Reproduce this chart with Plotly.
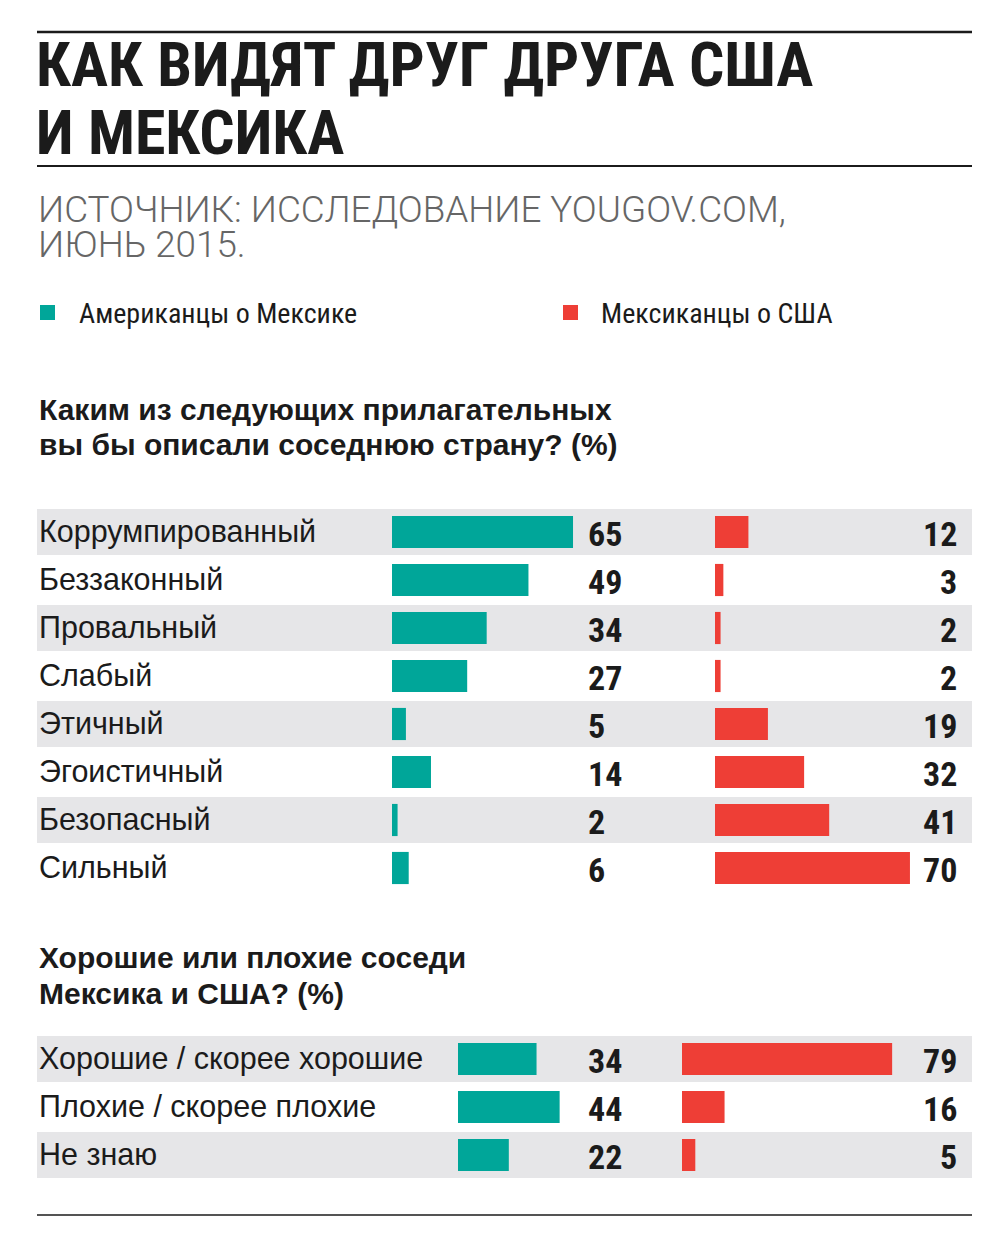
import plotly.graph_objects as go

# ---------------- data ----------------
adjectives = ["Коррумпированный", "Беззаконный", "Провальный", "Слабый",
              "Этичный", "Эгоистичный", "Безопасный", "Сильный"]
us_on_mexico_adj = [65, 49, 34, 27, 5, 14, 2, 6]
mexico_on_us_adj = [12, 3, 2, 2, 19, 32, 41, 70]

neighbours = ["Хорошие / скорее хорошие", "Плохие / скорее плохие", "Не знаю"]
us_on_mexico_nb = [34, 44, 22]
mexico_on_us_nb = [79, 16, 5]

title_lines = ["КАК ВИДЯТ ДРУГ ДРУГА США", "И МЕКСИКА"]
source_lines = ["ИСТОЧНИК: ИССЛЕДОВАНИЕ YOUGOV.COM,", "ИЮНЬ 2015."]
legend_names = ["Американцы о Мексике", "Мексиканцы о США"]
question1 = ["Каким из следующих прилагательных", "вы бы описали соседнюю страну? (%)"]
question2 = ["Хорошие или плохие соседи", "Мексика и США? (%)"]

# ---------------- style ----------------
W, H = 1000, 1240
TEAL = "#00a699"
RED = "#ee3e36"
STRIPE = "#e6e6e8"
INK = "#1b1b1b"
COND = "Roboto Condensed, Open Sans Condensed, sans-serif"
SANS = "Liberation Sans, Arial, Helvetica, sans-serif"


def px(x):
    return x / W


def py(y):
    return 1 - y / H


fig = go.Figure()

# panel 1 bars
fig.add_trace(go.Bar(y=adjectives, x=us_on_mexico_adj, orientation="h",
                     marker=dict(color=TEAL, line=dict(width=0)),
                     xaxis="x", yaxis="y", name=legend_names[0], hoverinfo="x+y"))
fig.add_trace(go.Bar(y=adjectives, x=mexico_on_us_adj, orientation="h",
                     marker=dict(color=RED, line=dict(width=0)),
                     xaxis="x2", yaxis="y", name=legend_names[1], hoverinfo="x+y"))
# panel 2 bars
fig.add_trace(go.Bar(y=neighbours, x=us_on_mexico_nb, orientation="h",
                     marker=dict(color=TEAL, line=dict(width=0)),
                     xaxis="x3", yaxis="y3", name=legend_names[0], hoverinfo="x+y"))
fig.add_trace(go.Bar(y=neighbours, x=mexico_on_us_nb, orientation="h",
                     marker=dict(color=RED, line=dict(width=0)),
                     xaxis="x4", yaxis="y3", name=legend_names[1], hoverinfo="x+y"))

hidden = dict(showgrid=False, zeroline=False, showticklabels=False,
              showline=False, ticks="", fixedrange=True)

p1_top, p1_bot = 508, 892
p2_top, p2_bot = 1035, 1179

fig.update_layout(
    width=W, height=H,
    margin=dict(l=0, r=0, t=0, b=0),
    paper_bgcolor="white", plot_bgcolor="rgba(0,0,0,0)",
    showlegend=False, bargap=0.33,
    xaxis=dict(domain=[px(392), px(392 + 278.5)], range=[0, 100], anchor="y", **hidden),
    xaxis2=dict(domain=[px(715), px(715 + 278.5)], range=[0, 100], anchor="y", **hidden),
    yaxis=dict(domain=[py(p1_bot), py(p1_top)], type="category",
               categoryorder="array", categoryarray=adjectives,
               range=[len(adjectives) - 0.5, -0.5], anchor="x", **hidden),
    xaxis3=dict(domain=[px(458), px(458 + 207.9)], range=[0, 90], anchor="y3", **hidden),
    xaxis4=dict(domain=[px(682), px(682 + 292.6)], range=[0, 110], anchor="y3", **hidden),
    yaxis3=dict(domain=[py(p2_bot), py(p2_top)], type="category",
                categoryorder="array", categoryarray=neighbours,
                range=[len(neighbours) - 0.5, -0.5], anchor="x3", **hidden),
)

shapes = []
# rules
shapes.append(dict(type="line", xref="paper", yref="paper", x0=px(37), x1=px(972),
                   y0=py(32), y1=py(32), line=dict(color=INK, width=2.5)))
shapes.append(dict(type="line", xref="paper", yref="paper", x0=px(37), x1=px(972),
                   y0=py(166), y1=py(166), line=dict(color=INK, width=2)))
shapes.append(dict(type="line", xref="paper", yref="paper", x0=px(37), x1=px(972),
                   y0=py(1215), y1=py(1215), line=dict(color=INK, width=1.5)))
# stripes
for i in range(0, len(adjectives), 2):
    shapes.append(dict(type="rect", xref="paper", yref="y", x0=px(37), x1=px(972),
                       y0=i - 0.48, y1=i + 0.48, fillcolor=STRIPE, line=dict(width=0),
                       layer="below"))
for i in range(0, len(neighbours), 2):
    shapes.append(dict(type="rect", xref="paper", yref="y3", x0=px(37), x1=px(972),
                       y0=i - 0.48, y1=i + 0.48, fillcolor=STRIPE, line=dict(width=0),
                       layer="below"))
# legend squares
shapes.append(dict(type="rect", xref="paper", yref="paper", x0=px(40), x1=px(55),
                   y0=py(320), y1=py(305), fillcolor=TEAL, line=dict(width=0)))
shapes.append(dict(type="rect", xref="paper", yref="paper", x0=px(563), x1=px(578),
                   y0=py(320), y1=py(305), fillcolor=RED, line=dict(width=0)))
fig.update_layout(shapes=shapes)

ann = []


def text(x, y, s, size, family, color=INK, weight="normal", anchor="left"):
    ann.append(dict(xref="paper", yref="paper", x=px(x), y=py(y), text=s,
                    showarrow=False, xanchor=anchor, yanchor="middle",
                    font=dict(size=size, family=family, color=color, weight=weight)))


text(34, 65, title_lines[0], 62, COND, weight="bold")
text(34, 132, title_lines[1], 62, COND, weight="bold")
text(36, 209, source_lines[0], 36.8, "Roboto, sans-serif", color="#666666", weight=300)
text(36, 244, source_lines[1], 36.8, "Roboto, sans-serif", color="#666666", weight=300)
text(77, 313, legend_names[0], 28, COND)
text(599, 313, legend_names[1], 28, COND)
text(37, 409, question1[0], 30, SANS, weight="bold")
text(37, 444, question1[1], 30, SANS, weight="bold")
text(37, 957, question2[0], 30, SANS, weight="bold")
text(37, 993, question2[1], 30, SANS, weight="bold")

# row labels and values
VAL = dict(size=34, family=COND, color=INK, weight="bold")
LAB = dict(size=30.5, family=SANS, color=INK)
for yref, cats, left, right in [("y", adjectives, us_on_mexico_adj, mexico_on_us_adj),
                                ("y3", neighbours, us_on_mexico_nb, mexico_on_us_nb)]:
    for cat, a, b in zip(cats, left, right):
        ann.append(dict(xref="paper", yref=yref, x=px(37), y=cat, text=cat, showarrow=False,
                        xanchor="left", yanchor="middle", yshift=1, font=LAB))
        ann.append(dict(xref="paper", yref=yref, x=px(586), y=cat, text=str(a), showarrow=False,
                        xanchor="left", yanchor="middle", yshift=-2, font=VAL))
        ann.append(dict(xref="paper", yref=yref, x=px(959), y=cat, text=str(b), showarrow=False,
                        xanchor="right", yanchor="middle", yshift=-2, font=VAL))

fig.update_layout(annotations=ann)
fig.write_html("out.html")
